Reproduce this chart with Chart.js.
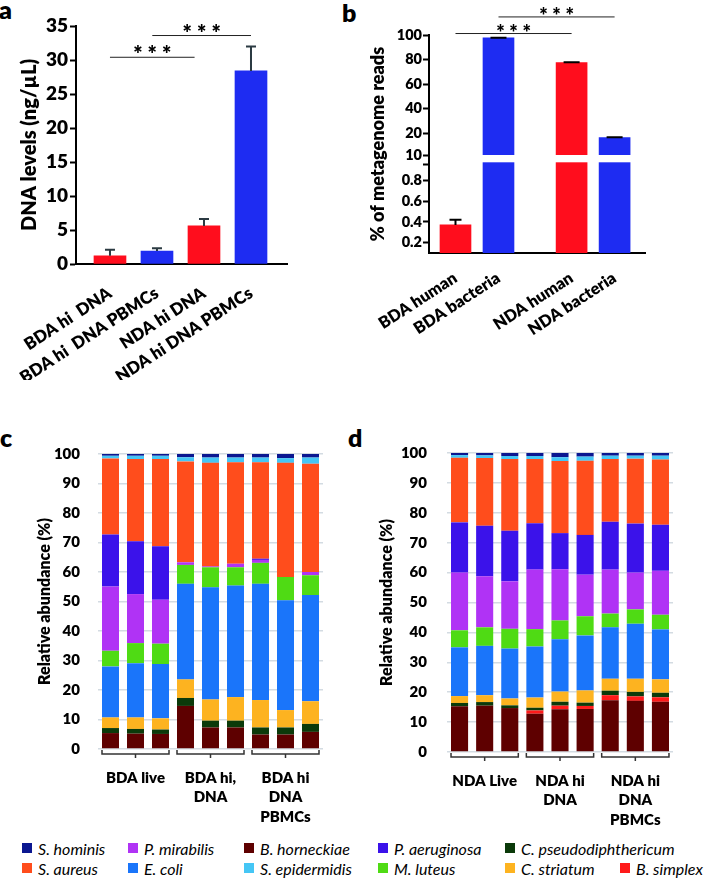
<!DOCTYPE html>
<html>
<head>
<meta charset="utf-8">
<script src="https://cdn.jsdelivr.net/npm/chart.js@4.4.1/dist/chart.umd.min.js"></script>
<style>
  html, body { margin: 0; padding: 0; background: #fff; }
  #page { position: relative; width: 709px; height: 878px; overflow: hidden; font-family: Lato, 'Open Sans', sans-serif; color: #000; }
  .panel { position: absolute; }
  .letter { position: absolute; font-weight: 800; font-size: 25px; line-height: 1; }
  .item { position: absolute; height: 20px; display: flex; align-items: center; font-style: italic; font-size: 16px; white-space: nowrap; }
  .sw { display: inline-block; width: 10px; height: 10px; margin-right: 6px; }
</style>
</head>
<body>
<div id="page">
  <div class="letter" style="left:-1px;top:-3px">a</div>
  <div class="letter" style="left:342px;top:0px">b</div>
  <div class="letter" style="left:0px;top:425px">c</div>
  <div class="letter" style="left:348px;top:425px">d</div>
  <div class="panel" style="left:0;top:0;width:340px;height:380px"><canvas id="chartA"></canvas></div>
  <div class="panel" style="left:340px;top:0;width:369px;height:380px"><canvas id="chartB"></canvas></div>
  <div class="panel" style="left:0;top:420px;width:354px;height:410px"><canvas id="chartC"></canvas></div>
  <div class="panel" style="left:354px;top:420px;width:355px;height:410px"><canvas id="chartD"></canvas></div>
  <div id="legend"></div>
</div>
<script>
// ---- panel a: DNA levels ----
const aLabels = ['BDA hi  DNA', 'BDA hi  DNA PBMCs', 'NDA hi DNA', 'NDA hi DNA PBMCs'];
const aValues = [1.2, 1.9, 5.6, 28.4];
const aErrors = [0.9, 0.4, 1.0, 3.6];

// ---- panel b: % of metagenome reads (broken axis) ----
const bLabels = ['BDA human', 'BDA bacteria', 'NDA human', 'NDA bacteria'];
const bValues = [0.37, 97.6, 77.6, 18.0];
const bErrors = [0.05, 0.2, 0.3, 0.2];
const bTickValues = [0.2, 0.4, 0.6, 0.8, 0.95, 10, 20, 40, 60, 80, 100];
const bTickLabels = ['0.2', '0.4', '0.6', '0.8', '', '10', '20', '40', '60', '80', '100'];

// ---- panels c / d: relative abundance, stacked bottom -> top ----
const species = ['B. horneckiae', 'B. simplex', 'C. pseudodiphthericum', 'C. striatum', 'E. coli',
  'M. luteus', 'P. mirabilis', 'P. aeruginosa', 'S. aureus', 'S. epidermidis', 'S. hominis'];
const samples = ['1', '2', '3', '4', '5', '6', '7', '8', '9'];
const cGroups = ['BDA live', ['BDA hi,', 'DNA'], ['BDA hi', 'DNA', 'PBMCs']];
const dGroups = ['NDA Live', ['NDA hi', 'DNA'], ['NDA hi', 'DNA', 'PBMCs']];

const cHorneckiae = [5.4, 5.2, 5.1, 14.6, 7.3, 7.3, 4.9, 4.9, 5.8];
const cSimplex = [0, 0, 0, 0, 0, 0, 0, 0, 0];
const cPseudodiph = [1.7, 1.6, 1.5, 2.7, 2.3, 2.3, 2.4, 2.4, 2.7];
const cStriatum = [3.6, 3.9, 3.8, 6.3, 7.2, 8.0, 9.3, 5.9, 7.7];
const cColi = [17.3, 18.4, 18.4, 32.4, 38.0, 37.8, 39.4, 37.2, 36.0];
const cLuteus = [5.3, 6.8, 6.9, 6.4, 6.8, 6.2, 7.1, 7.9, 6.7];
const cMirabilis = [21.8, 16.6, 14.9, 0.9, 0.3, 1.2, 1.0, 0, 1.1];
const cAeruginosa = [17.6, 17.9, 18.1, 0, 0, 0, 0.4, 0, 0];
const cAureus = [25.8, 27.9, 29.6, 34.2, 35.1, 34.4, 32.7, 38.7, 36.7];
const cEpidermidis = [0.9, 1.1, 1.1, 1.4, 1.8, 1.6, 1.6, 1.6, 2.1];
const cHominis = [0.6, 0.6, 0.6, 1.1, 1.2, 1.2, 1.2, 1.4, 1.2];

const dHorneckiae = [15.3, 15.5, 14.7, 12.8, 14.3, 14.4, 17.3, 17.1, 16.8];
const dSimplex = [0, 0, 0, 1.1, 1.2, 1.0, 1.7, 1.5, 1.5];
const dPseudodiph = [1.1, 1.2, 0.9, 0.9, 1.3, 1.1, 1.5, 1.5, 1.5];
const dStriatum = [2.3, 2.3, 2.3, 3.4, 3.4, 4.1, 4.0, 4.4, 4.5];
const dColi = [16.3, 16.5, 16.7, 17.1, 17.5, 18.4, 17.2, 18.4, 16.7];
const dLuteus = [5.7, 6.2, 6.6, 5.8, 6.3, 6.4, 4.6, 4.8, 4.9];
const dMirabilis = [19.3, 17.1, 15.9, 19.9, 17.1, 13.9, 14.7, 12.3, 14.7];
const dAeruginosa = [16.8, 16.9, 16.9, 15.5, 12.1, 13.3, 16.0, 16.4, 15.4];
const dAureus = [21.6, 22.6, 24.0, 21.5, 24.1, 24.8, 21.0, 21.7, 21.8];
const dEpidermidis = [0.9, 0.9, 1.0, 1.0, 1.3, 1.4, 1.1, 1.0, 1.3];
const dHominis = [0.7, 0.8, 1.0, 1.0, 1.4, 1.2, 0.9, 0.9, 0.9];

const FONT = "Lato, 'Open Sans', sans-serif";
const RED = '#ff0d1d';
const BLUE = '#1e2cf2';
const speciesColors = ['#5e0000', '#ff1a1a', '#0b3a0a', '#fdb320', '#1a75fa',
  '#4fdb14', '#b033f5', '#3b12ea', '#ff4d1c', '#45c6f5', '#0b1790'];

// b axis: piecewise map of value -> axis units (keeps the break between 1 and 10)
const bBreaks = [[0.1, 0], [0.95, 88.3], [10, 97.7], [20, 119.7], [100, 218]];
const bGap = [90.7, 98];
const bSlots = [0, 1, 2.7, 3.7];

function toU(v) {
    for (let i = 1; i < bBreaks.length; i++) {
        if (v <= bBreaks[i][0] || i === bBreaks.length - 1) {
            const [v0, u0] = bBreaks[i - 1];
            const [v1, u1] = bBreaks[i];
            return u0 + (v - v0) / (v1 - v0) * (u1 - u0);
        }
    }
}

function bold(size, weight) {
    return { family: FONT, size: size, weight: weight || 800 };
}

function errorBars(tops, color, halfCap) {
    return {
        id: 'errorBars',
        afterDatasetsDraw(chart) {
            const { ctx } = chart;
            const y = chart.scales.y;
            const meta = chart.getDatasetMeta(0);
            ctx.save();
            ctx.strokeStyle = color;
            ctx.lineWidth = 2;
            meta.data.forEach((bar, i) => {
                const yt = y.getPixelForValue(tops[i]);
                ctx.beginPath();
                ctx.moveTo(bar.x, bar.y);
                ctx.lineTo(bar.x, yt);
                ctx.moveTo(bar.x - halfCap[i], yt);
                ctx.lineTo(bar.x + halfCap[i], yt);
                ctx.stroke();
            });
            ctx.restore();
        }
    };
}

function sigBrackets(list, size, lift) {
    return {
        id: 'sigBrackets',
        afterDraw(chart) {
            const { ctx, scales: { x, y } } = chart;
            ctx.save();
            ctx.strokeStyle = '#222';
            ctx.lineWidth = 1;
            ctx.fillStyle = '#000';
            ctx.font = `800 ${size}px ${FONT}`;
            ctx.textAlign = 'center';
            list.forEach(b => {
                const x0 = x.getPixelForValue(b.from);
                const x1 = x.getPixelForValue(b.to);
                const yy = y.getPixelForValue(b.at);
                ctx.beginPath();
                ctx.moveTo(x0, yy);
                ctx.lineTo(x1, yy);
                ctx.stroke();
                ctx.fillText('* * *', (x0 + x1) / 2, yy + lift);
            });
            ctx.restore();
        }
    };
}

const axisBreak = {
    id: 'axisBreak',
    afterDatasetsDraw(chart) {
        const { ctx, chartArea, scales: { y } } = chart;
        const top = y.getPixelForValue(bGap[1]);
        const bottom = y.getPixelForValue(bGap[0]);
        ctx.save();
        ctx.fillStyle = '#fff';
        ctx.fillRect(chartArea.left + 2, top, chartArea.right - chartArea.left - 2, bottom - top);
        ctx.restore();
    }
};

const groupBrackets = {
    id: 'groupBrackets',
    afterDraw(chart) {
        const { ctx, chartArea } = chart;
        const meta = chart.getDatasetMeta(0);
        const y = chartArea.bottom + 5;
        ctx.save();
        ctx.strokeStyle = '#333';
        ctx.lineWidth = 1.5;
        for (let g = 0; g < 3; g++) {
            const first = meta.data[g * 3];
            const last = meta.data[g * 3 + 2];
            const x0 = first.x - first.width / 2;
            const x1 = last.x + last.width / 2;
            const xm = (x0 + x1) / 2;
            ctx.beginPath();
            ctx.moveTo(x0, y - 4);
            ctx.lineTo(x0, y);
            ctx.lineTo(x1, y);
            ctx.lineTo(x1, y - 4);
            ctx.moveTo(xm, y);
            ctx.lineTo(xm, y + 4);
            ctx.stroke();
        }
        ctx.restore();
    }
};

const base = {
    responsive: true,
    maintainAspectRatio: false,
    animation: false,
    devicePixelRatio: 1,
    plugins: { legend: { display: false }, tooltip: { enabled: false } }
};

function rotatedX(labels, slots, min, max, height, size, pad) {
    return {
        type: 'linear', min: min, max: max, offset: false,
        afterBuildTicks: s => { s.ticks = slots.map(v => ({ value: v })); },
        ticks: { callback: (v, i) => labels[i], autoSkip: false, minRotation: 33, maxRotation: 33,
            padding: pad, color: '#000', font: bold(size) },
        grid: { display: false },
        border: { display: true, color: '#000', width: 2 },
        afterFit: s => { s.height = height; }
    };
}

// ---- a ----
const aSlots = aLabels.map((_, i) => i);
new Chart(document.getElementById('chartA'), {
    type: 'bar',
    data: { datasets: [{ data: aValues.map((v, i) => ({ x: aSlots[i], y: v })),
        backgroundColor: [RED, BLUE, RED, BLUE], barThickness: 32 }] },
    options: Object.assign({}, base, {
        layout: { padding: { left: 0, right: 53, top: 26, bottom: 0 } },
        scales: {
            x: rotatedX(aLabels, aSlots, -0.723, 3.766, 116, 17, 11),
            y: {
                min: 0, max: 35,
                ticks: { stepSize: 5, color: '#000', font: bold(19), padding: 2 },
                grid: { display: true, drawOnChartArea: false, drawTicks: true, tickLength: 6, tickWidth: 2, tickColor: '#000' },
                border: { display: true, color: '#000', width: 2 },
                title: { display: true, text: 'DNA levels (ng/µL)', color: '#000', font: bold(20), padding: { top: 18, bottom: 0 } },
                afterFit: s => { s.width = 76; }
            }
        }
    }),
    plugins: [
        errorBars(aValues.map((v, i) => v + aErrors[i]), '#2b3a42', [5, 5, 5, 5]),
        sigBrackets([{ from: 0, to: 1.8, at: 30.4 }, { from: 0.9, to: 3, at: 33.6 }], 22, 5)
    ]
});

// ---- b ----
new Chart(document.getElementById('chartB'), {
    type: 'bar',
    data: { datasets: [{ data: bValues.map((v, i) => ({ x: bSlots[i], y: toU(v) })),
        backgroundColor: [RED, BLUE, RED, BLUE], barThickness: 31 }] },
    options: Object.assign({}, base, {
        layout: { padding: { left: 0, right: 64, top: 35, bottom: 0 } },
        scales: {
            x: rotatedX(bLabels, bSlots, -0.616, 4.407, 127, 16.5, 7),
            y: {
                min: 0, max: 218,
                afterBuildTicks: s => { s.ticks = bTickValues.map(v => ({ value: toU(v) })); },
                ticks: { callback: (v, i) => bTickLabels[i], autoSkip: false, color: '#000', font: bold(14.5), padding: 1 },
                grid: { display: true, drawOnChartArea: false, drawTicks: true, tickLength: 6, tickWidth: 2, tickColor: '#000' },
                border: { display: true, color: '#000', width: 2 },
                title: { display: true, text: '% of metagenome reads', color: '#000', font: bold(18), padding: { top: 27, bottom: 0 } },
                afterFit: s => { s.width = 89; }
            }
        }
    }),
    plugins: [
        axisBreak,
        errorBars(bValues.map((v, i) => toU(v + bErrors[i])), '#000', [6, 8, 8, 8]),
        sigBrackets([{ from: bSlots[0], to: bSlots[2], at: toU(101.2) }, { from: bSlots[1], to: bSlots[3], at: toU(114.7) }], 20, 6)
    ]
});

// ---- c / d ----
function stackedChart(id, series, groups, geo) {
    new Chart(document.getElementById(id), {
        type: 'bar',
        data: {
            labels: samples,
            datasets: series.map((data, k) => ({
                label: species[k], data: data, backgroundColor: speciesColors[k],
                barPercentage: 0.68, categoryPercentage: 1
            }))
        },
        options: Object.assign({}, base, {
            layout: { padding: { left: 0, right: geo.right, top: geo.top, bottom: 0 } },
            scales: {
                x: { stacked: true, display: false },
                x2: {
                    type: 'category', labels: groups, position: 'bottom', offset: true,
                    grid: { display: false }, border: { display: false },
                    ticks: { color: '#000', font: Object.assign(bold(15), { lineHeight: 1.3 }), padding: 11, maxRotation: 0, autoSkip: false },
                    afterFit: s => { s.height = geo.bottom; }
                },
                y: {
                    stacked: true, min: 0, max: 100,
                    ticks: { stepSize: 10, color: '#000', font: bold(15), padding: geo.pad },
                    grid: { color: '#d3dbe2', lineWidth: 1.5, drawTicks: false },
                    border: { display: false },
                    title: { display: true, text: 'Relative abundance (%)', color: '#000', font: bold(16), padding: { top: geo.title, bottom: 0 } },
                    afterFit: s => { s.width = geo.left; }
                }
            }
        }),
        plugins: [groupBrackets]
    });
}

stackedChart('chartC',
    [cHorneckiae, cSimplex, cPseudodiph, cStriatum, cColi, cLuteus, cMirabilis, cAeruginosa, cAureus, cEpidermidis, cHominis],
    cGroups, { left: 98, right: 31, top: 34, bottom: 81, pad: 18, title: 35 });

stackedChart('chartD',
    [dHorneckiae, dSimplex, dPseudodiph, dStriatum, dColi, dLuteus, dMirabilis, dAeruginosa, dAureus, dEpidermidis, dHominis],
    dGroups, { left: 93, right: 36, top: 33, bottom: 78, pad: 20, title: 23 });

// ---- shared legend ----
const legendRows = [
    ['S. hominis', 'P. mirabilis', 'B. horneckiae', 'P. aeruginosa', 'C. pseudodiphthericum'],
    ['S. aureus', 'E. coli', 'S. epidermidis', 'M. luteus', 'C. striatum', 'B. simplex']
];
const legendCols = [22, 128, 244, 378, 505, 620];
const legendMid = [848, 868];

const legend = document.getElementById('legend');
legendRows.forEach((row, r) => {
    row.forEach((name, c) => {
        const el = document.createElement('div');
        el.className = 'item';
        el.style.left = legendCols[c] + 'px';
        el.style.top = (legendMid[r] - 10) + 'px';
        el.innerHTML = `<span class="sw" style="background:${speciesColors[species.indexOf(name)]}"></span>${name}`;
        legend.appendChild(el);
    });
});
</script>
</body>
</html>
